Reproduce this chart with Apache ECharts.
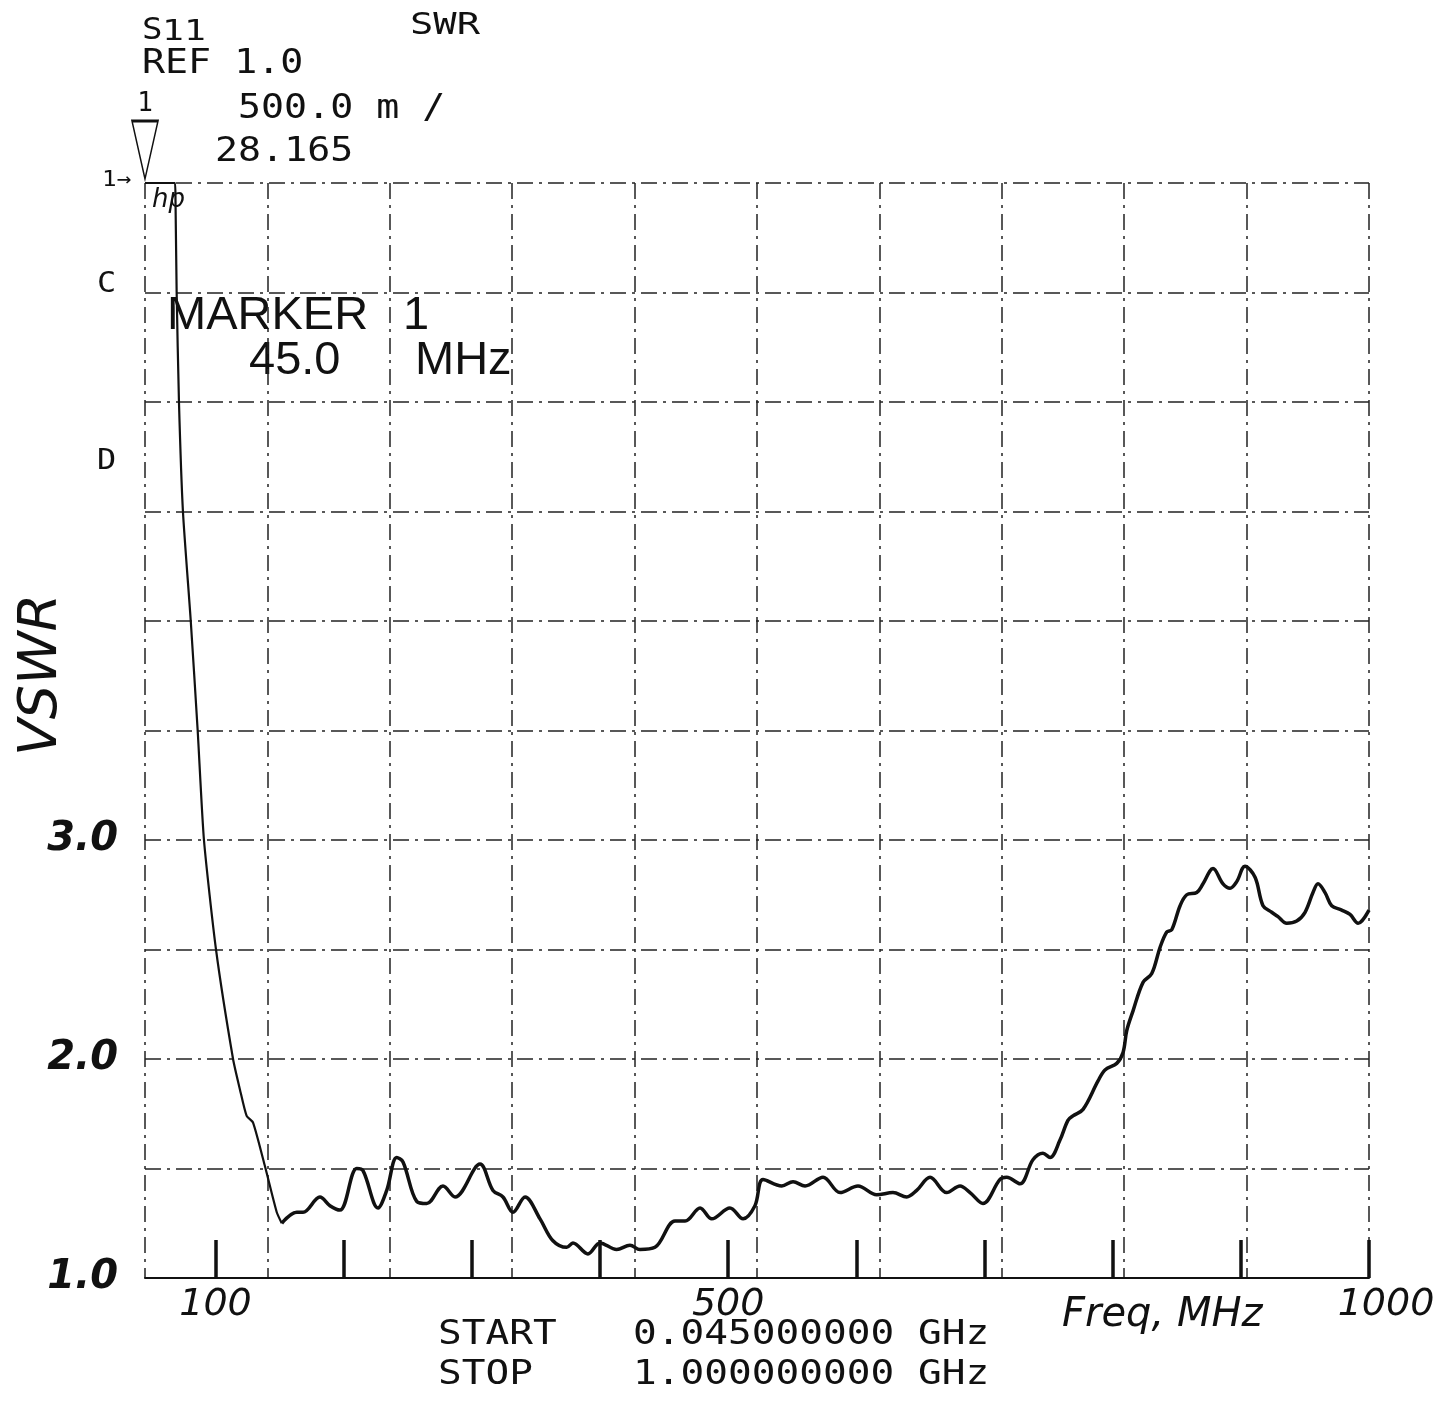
<!DOCTYPE html>
<html>
<head>
<meta charset="utf-8">
<script src="https://cdn.jsdelivr.net/npm/echarts@6/dist/echarts.min.js"></script>
<style>
html,body{margin:0;padding:0;background:#fff;}
#chart{width:1454px;height:1403px;}
</style>
</head>
<body>
<div id="chart"></div>
<script>
// ---- data (frequency in MHz, SWR as displayed, clipped at top of screen) ----
const freqMHz = [45, 68.4, 68.8, 69.7, 71.5, 74.6, 80.7, 86.1, 91.0, 100.4, 113.7, 119.1, 124.3, 129.3, 138.6, 147.8, 151.7,
  163.4, 168.3, 181.5, 189.3, 197.1, 210.2, 215.1, 226.8, 233.6, 241.4, 246.3, 257.0, 264.8, 277.5, 286.9, 306.4, 316.5,
  324.3, 332.1, 341.5, 353.2, 363.3, 374.0, 378.9, 390.6, 400.0, 413.0, 423.4, 431.2, 442.9, 458.5, 466.4, 478.1, 487.2,
  501.4, 511.6, 520.9, 527.2, 541.8, 550.6, 560.0, 574.0, 587.3, 601.3, 615.9, 628.6, 639.3, 647.1, 657.5, 670.5, 680.9,
  688.7, 698.8, 712.1, 717.3, 727.7, 737.8, 745.6, 751.1, 758.9, 765.1, 769.0, 776.9, 788.6, 794.0, 803.2, 808.1, 811.0,
  815.9, 823.7, 830.5, 837.0, 842.2, 846.1, 852.6, 857.8, 865.6, 870.5, 878.3, 886.1, 891.6, 896.8, 903.2, 911.1, 917.3,
  924.1, 929.0, 935.8, 943.6, 950.1, 956.3, 960.2, 965.7, 970.9, 978.7, 985.2, 991.5, 1000];
const vswr = [6.0, 6.0, 5.92, 5.5, 5.0, 4.5, 4.0, 3.5, 3.0, 2.5, 2.0, 1.86, 1.74, 1.71, 1.51, 1.30, 1.25,
  1.30, 1.30, 1.37, 1.33, 1.31, 1.50, 1.49, 1.32, 1.40, 1.55, 1.53, 1.35, 1.34, 1.42, 1.37, 1.52, 1.40,
  1.37, 1.30, 1.37, 1.27, 1.17, 1.14, 1.16, 1.11, 1.16, 1.13, 1.15, 1.13, 1.14, 1.26, 1.26, 1.32, 1.27,
  1.32, 1.27, 1.33, 1.45, 1.42, 1.44, 1.42, 1.46, 1.39, 1.42, 1.38, 1.39, 1.37, 1.40, 1.46, 1.39, 1.42,
  1.39, 1.34, 1.45, 1.46, 1.43, 1.54, 1.57, 1.55, 1.63, 1.72, 1.74, 1.77, 1.90, 1.95, 1.98, 2.03, 2.13,
  2.22, 2.35, 2.39, 2.51, 2.58, 2.59, 2.70, 2.75, 2.76, 2.80, 2.87, 2.80, 2.78, 2.81, 2.88, 2.83, 2.70,
  2.67, 2.65, 2.62, 2.63, 2.67, 2.76, 2.80, 2.76, 2.70, 2.68, 2.66, 2.62, 2.68];
const xTickValues = [100, 200, 300, 400, 500, 600, 700, 800, 900, 1000];
const xLabelValues = [100, 500, 1000];
const yLabelValues = [1.0, 2.0, 3.0];
const steepEndMHz = 151.7;   // end of the thin, steep part of the trace

// ---- build ----
const n = Math.min(freqMHz.length, vswr.length);
const pts = [];
for (let i = 0; i < n; i++) pts.push([freqMHz[i], vswr[i]]);
const steep = pts.filter(p => p[0] <= steepEndMHz);
const rest = pts.filter(p => p[0] >= steepEndMHz);

const INK = '#111';
const GRID_DASH = [16, 6, 3, 6];
const MONO = '"DejaVu Sans Mono", monospace';
const SANS = '"Liberation Sans", Arial, sans-serif';
const HAND = '"DejaVu Sans", sans-serif';

function mono(text, x, y, size, sx) {
  return { type: 'text', x: x, y: y, scaleX: sx || 1.16, silent: true,
    style: { text: text, font: size + 'px ' + MONO, fill: INK, align: 'left', verticalAlign: 'bottom' } };
}
function sans(text, x, y) {
  return { type: 'text', x: x, y: y, silent: true,
    style: { text: text, font: '47px ' + SANS, fill: INK, align: 'left', verticalAlign: 'bottom' } };
}

const chart = echarts.init(document.getElementById('chart'));
chart.setOption({
  animation: false,
  backgroundColor: '#fff',
  grid: { left: 145, right: 85, top: 183, bottom: 125 },
  xAxis: [
    {
      type: 'value', min: 45, max: 1000, position: 'bottom',
      splitLine: { show: false },
      axisLine: { show: true, onZero: false, lineStyle: { color: INK, width: 2 } },
      axisTick: { show: true, inside: true, length: 38, customValues: xTickValues, lineStyle: { color: INK, width: 3.5 } },
      axisLabel: {
        show: true, customValues: xLabelValues, margin: 8, showMaxLabel: true, showMinLabel: true,
        color: INK, fontFamily: HAND, fontStyle: 'italic', fontSize: 38,
        formatter: v => (v === 1000 ? '{r|1000}' : String(v)),
        rich: { r: { padding: [0, 0, 0, 34], color: INK, fontFamily: HAND, fontStyle: 'italic', fontSize: 38 } }
      }
    },
    {
      type: 'value', min: 0, max: 10, interval: 1, position: 'top',
      axisLine: { show: false }, axisTick: { show: false }, axisLabel: { show: false },
      splitLine: { show: true, lineStyle: { color: '#222', width: 1.5, type: GRID_DASH } }
    }
  ],
  yAxis: {
    type: 'value', min: 1, max: 6, interval: 0.5,
    axisLine: { show: false }, axisTick: { show: false },
    splitLine: { show: true, lineStyle: { color: '#222', width: 1.5, type: GRID_DASH } },
    axisLabel: {
      customValues: yLabelValues, margin: 27, formatter: v => v.toFixed(1),
      color: INK, fontFamily: HAND, fontStyle: 'italic', fontWeight: 'bold', fontSize: 40
    }
  },
  series: [
    {
      type: 'line', xAxisIndex: 0, data: steep, symbol: 'none', smooth: 0.2, clip: false,
      lineStyle: { color: INK, width: 2.2 },
      markPoint: {
        silent: true,
        symbol: 'triangle', symbolRotate: 180, symbolSize: [26, 58], symbolOffset: [0, -33],
        itemStyle: { color: 'rgba(0,0,0,0)', borderColor: INK, borderWidth: 2 },
        label: { show: true, formatter: '1', color: INK, fontFamily: MONO, fontSize: 26, position: 'top', distance: 2 },
        data: [{ coord: [freqMHz[0], vswr[0]] }]
      }
    },
    {
      type: 'line', xAxisIndex: 0, data: rest, symbol: 'none', smooth: 0.35,
      lineStyle: { color: INK, width: 3.5 }
    }
  ],
  graphic: [
    mono('S', 142, 46, 31, 1.1),
    mono('11', 162, 47, 28, 1.3),
    mono('SWR', 410, 41, 31, 1.25),
    mono('REF 1.0', 142, 81, 33),
    mono('500.0 m /', 238, 126, 33),
    mono('28.165', 215, 169, 33),
    mono('1\u2192', 102, 191, 22, 1.1),
    { type: 'text', x: 152, y: 213, silent: true,
      style: { text: 'hp', font: 'italic 26px ' + HAND, fill: INK, align: 'left', verticalAlign: 'bottom' } },
    mono('C', 97, 299, 29, 1.1),
    mono('D', 97, 476, 29, 1.1),
    sans('MARKER', 167, 340),
    sans('1', 403, 340),
    sans('45.0', 249, 385),
    sans('MHz', 415, 385),
    mono('START', 438, 1352, 34),
    mono('0.045000000 GHz', 633, 1352, 34),
    mono('STOP', 438, 1392, 34),
    mono('1.000000000 GHz', 633, 1392, 34),
    { type: 'text', x: 1062, y: 1336, silent: true,
      style: { text: 'Freq, MHz', font: 'italic 40px ' + HAND, fill: INK, align: 'left', verticalAlign: 'bottom' } },
    { type: 'text', x: 42, y: 675, rotation: Math.PI / 2, silent: true,
      style: { text: 'VSWR', font: 'italic 54px ' + HAND, fill: INK, align: 'center', verticalAlign: 'middle' } }
  ]
});
</script>
</body>
</html>
